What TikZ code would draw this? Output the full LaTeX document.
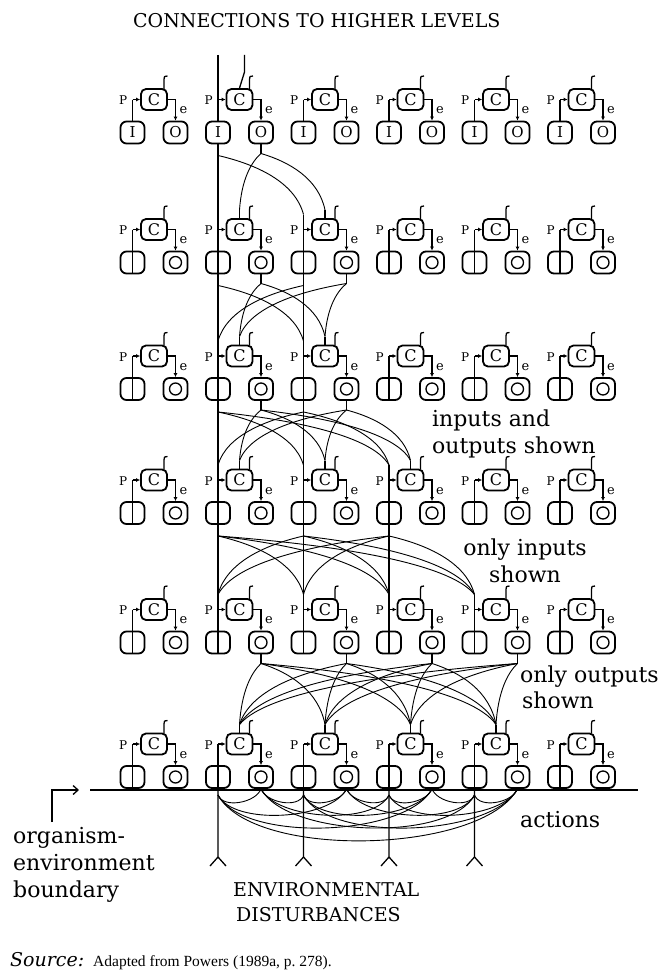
\documentclass[tikz,border=0pt]{standalone}
\usepackage{fontspec}
\setmainfont{DejaVu Serif}
\newfontfamily\notefont{Liberation Serif}
\usetikzlibrary{calc,arrows.meta}

% curved wire from an upper port down to a lower port
\newcommand\wlink[2]{\draw[wire] let \p1=(#1),\p2=(#2) in (\p1)
  .. controls ({\x1+0.45*(\x2-\x1)},{\y1+0.15*(\y2-\y1)})
  and ({\x2-0.1*(\x2-\x1)},{\y2-0.55*(\y2-\y1)}) .. (\p2);}
% sagging arc below the boundary (actions)
\newcommand\alink[2]{\draw[wire] let \p1=(#1),\p2=(#2) in (\p1)
  .. controls ({\x1+0.12*(\x2-\x1)},{\y1-1.33*(0.15*abs(\x2-\x1)+4pt)})
  and ({\x2-0.12*(\x2-\x1)},{\y2-1.33*(0.15*abs(\x2-\x1)+4pt)}) .. (\p2);}

\begin{document}
\begin{tikzpicture}[x=1pt,y=-1pt,
  box/.style={draw, line width=1.8pt, rounded corners=5pt, inner sep=0pt},
  cbox/.style={box, minimum width=26pt, minimum height=21pt, font=\fontsize{16}{16}\selectfont},
  iobox/.style={box, minimum width=24pt, minimum height=22pt, rounded corners=6pt, font=\fontsize{15}{15}\selectfont},
  wire/.style={line width=0.9pt},
  unitline/.style={line width=1.3pt},
  tip/.style={-{Latex[length=4pt,width=4pt]}},
  lab/.style={font=\fontsize{22}{22}\selectfont, inner sep=0pt},
  caps/.style={font=\fontsize{19}{19}\selectfont, inner sep=0pt},
  srcstyle/.style={font=\notefont\fontsize{15.5}{15.5}\selectfont, inner sep=0pt},
  small/.style={font=\fontsize{12}{12}\selectfont, inner sep=0pt},
  esmall/.style={font=\fontsize{13}{13}\selectfont, inner sep=0pt},
]
\fill[white] (0,0) rectangle (660,974);
\useasboundingbox (0,0) rectangle (660,974);

% ---- control units: six levels of six units
\foreach \r/\yc in {1/99.5,2/229.5,3/356,4/480,5/609.5,6/744}{
  \foreach \c in {0,...,5}{
    \pgfmathsetmacro\ux{132.5+85.5*\c}
    \pgfmathsetmacro\cx{\ux+21.5}
    \pgfmathsetmacro\ox{\ux+43}
    \pgfmathsetmacro\yio{\yc+33}
    \node[cbox] (C-\r-\c) at (\cx,\yc) {C};
    \coordinate (pc-\r-\c) at (\ux,\yc);
    \coordinate (oc-\r-\c) at (\ox,\yc);
    \coordinate (ib-\r-\c) at (\ux,\yio+23);
    \coordinate (ob-\r-\c) at (\ox,\yio+21);
    \coordinate (pt-\r-\c) at (\ux,\yc-15);
    \coordinate (rt-\r-\c) at (\cx,\yc-19.5);
    \coordinate (rb-\r-\c) at (\cx+10,\yc-10.5);
    \coordinate (rh-\r-\c) at (\cx+10,\yc-20);
    \coordinate (rk-\r-\c) at (\cx+13.5,\yc-23.5);
    \ifnum\r=1
      \node[iobox] (I-\r-\c) at (\ux,\yio) {I};
      \node[iobox] (O-\r-\c) at (\ox,\yio) {O};
      \draw[unitline] (pc-\r-\c) -- (I-\r-\c.north);
    \else
      \node[iobox] (I-\r-\c) at (\ux,\yio) {};
      \node[iobox] (O-\r-\c) at (\ox,\yio) {};
      \draw[unitline] (O-\r-\c.center) circle[radius=6pt];
      \draw[unitline] (pc-\r-\c) -- (I-\r-\c.south);
    \fi
    \draw[unitline,tip] (pc-\r-\c) -- (C-\r-\c.west);
    \draw[unitline,tip] (C-\r-\c.east) -- (oc-\r-\c) -- (O-\r-\c.north);
    \draw[unitline] (rb-\r-\c) -- (rh-\r-\c) .. controls ($(rh-\r-\c)+(0,-3)$) .. (rk-\r-\c);
    \node[small, anchor=east] (P-\r-\c) at (\ux-5,\yc+1) {P};
    \node[esmall, anchor=west] (e-\r-\c) at (\ox+4,\yc+11) {e};
  }
}

% ---- stubs on the units that take part in the network
\foreach \v/\lows in {2/{1,2},3/{1,2},4/{1,2,3},5/{1,2,3,4}}{
  \foreach \b in \lows {\draw[unitline] (pt-\v-\b) -- (pc-\v-\b);}}
\foreach \v/\lows in {2/{1,2},3/{1,2},4/{1,2,3},6/{1,2,3,4}}{
  \foreach \b in \lows {\draw[unitline] (C-\v-\b.north) -- (rt-\v-\b);}}

% ---- perceptions passed upward (inputs)
\foreach \u/\ups/\lows in {1/{1}/{1,2},2/{1,2}/{1,2},3/{1,2}/{1,2,3},4/{1,2,3}/{1,2,3,4}}{
  \pgfmathtruncatemacro\v{\u+1}
  \foreach \a in \ups {\foreach \b in \lows {
    \ifnum\a=\b \draw[unitline] (I-\u-\a.south) -- (pt-\v-\b);
    \else \wlink{ib-\u-\a}{pt-\v-\b}\fi}}}

% ---- references passed downward (outputs)
\foreach \u/\ups/\lows in {1/{1}/{1,2},2/{1,2}/{1,2},3/{1,2}/{1,2,3},5/{1,2,3,4}/{1,2,3,4}}{
  \pgfmathtruncatemacro\v{\u+1}
  \foreach \a in \ups {\draw[unitline] (O-\u-\a.south) -- (ob-\u-\a);
    \foreach \b in \lows {\wlink{ob-\u-\a}{rt-\v-\b}}}}

% ---- connections to higher levels
\coordinate (toplong) at (218,55);
\coordinate (topref) at (244.5,55);
\coordinate (topbend) at (244.5,72);
\draw[unitline] (toplong) -- (pc-1-1);
\draw[unitline] (topref) -- (topbend) -- (C-1-1.north);

% ---- organism-environment boundary
\coordinate (bl) at (90,790);
\coordinate (br) at (638,790);
\draw[unitline] (bl) -- (br);
\coordinate (bm1) at (52,822);
\coordinate (bm2) at (52,790);
\coordinate (bm3) at (79,790);
\draw[unitline,-{Straight Barb[length=5pt,width=9pt]}] (bm1) -- (bm2) -- (bm3);

% ---- environmental disturbances and actions
\foreach \b in {1,...,4}{
  \pgfmathsetmacro\ux{132.5+85.5*\b}
  \coordinate (dist-\b) at (\ux,857);
  \coordinate (ea-\b) at (\ux,795);
  \draw[unitline] (I-6-\b.south) -- (dist-\b) -- ++(-8,9);
  \draw[unitline] (dist-\b) -- ++(8,9);
}
\foreach \a in {1,...,4}{\foreach \b in {1,...,4}{\alink{O-6-\a.south}{ea-\b}}}

% ---- labels
\node[caps, anchor=base west] (title) at (133,28) {CONNECTIONS TO HIGHER LEVELS};
\node[lab, anchor=base west] (io1) at (432,426) {inputs and};
\node[lab, anchor=base west] (io2) at (432,453) {outputs shown};
\node[lab, anchor=base] (oi1) at (525,555) {only inputs};
\node[lab, anchor=base] (oi2) at (525,582) {shown};
\node[lab, anchor=base west] (oo1) at (520,682) {only outputs};
\node[lab, anchor=base west] (oo2) at (522,708) {shown};
\node[lab, anchor=base west] (act) at (520,827) {actions};
\node[lab, anchor=base west] (bd1) at (13,843) {organism-};
\node[lab, anchor=base west] (bd2) at (13,870) {environment};
\node[lab, anchor=base west] (bd3) at (13,897) {boundary};
\node[caps, anchor=base west] (ed1) at (233,896) {ENVIRONMENTAL};
\node[caps, anchor=base west] (ed2) at (236,921) {DISTURBANCES};
\node[inner sep=0pt, anchor=base west] (srclab) at (10,966) {\fontsize{19}{19}\selectfont\itshape Source:};
\node[srcstyle, anchor=base west] (srctxt) at (93,966) {Adapted from Powers (1989a, p.~278).};
\end{tikzpicture}
\end{document}
